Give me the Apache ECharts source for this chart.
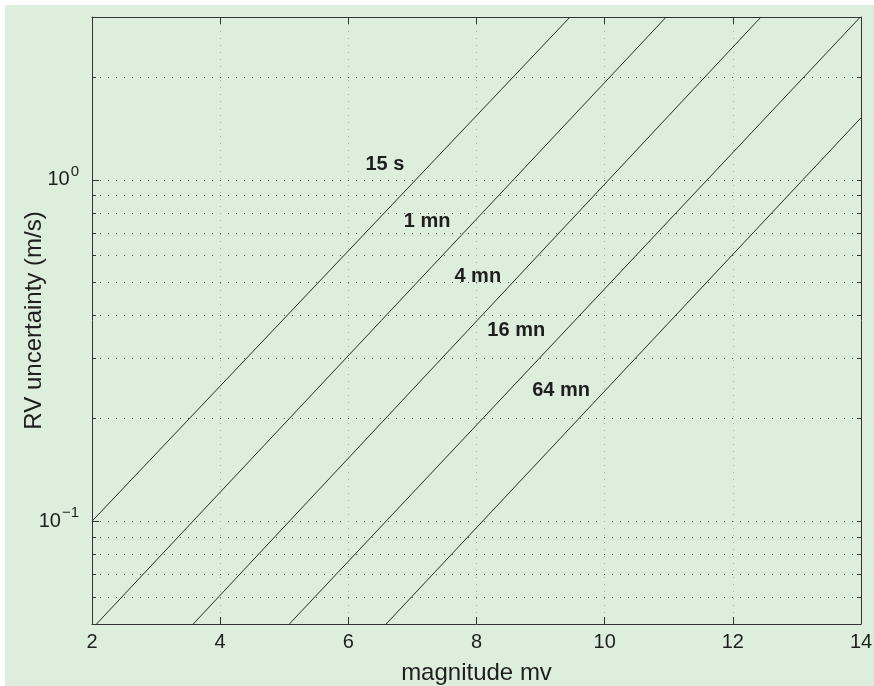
<!DOCTYPE html>
<html>
<head>
<meta charset="utf-8">
<script src="https://cdn.jsdelivr.net/npm/echarts@6/dist/echarts.min.js"></script>
<style>
html,body{margin:0;padding:0;background:#fff;}
#c{position:absolute;left:5px;top:5px;width:869px;height:681px;}
</style>
</head>
<body>
<div id="c"></div>
<script>
// Exposure-time lines: endpoints (where each line enters/leaves the plot)
const timeLabels = ['15 s', '1 mn', '4 mn', '16 mn', '64 mn'];
const startMag = [2.0, 2.07, 3.58, 5.08, 6.59];
const startRV  = [0.1, 0.05, 0.05, 0.05, 0.05];
const endMag   = [9.46, 10.96, 12.44, 13.99, 14.0];
const endRV    = [3.0, 3.0, 3.0, 3.0, 1.52];
// Label anchor positions (magnitude, RV)
const labelMag = [6.57, 7.23, 8.02, 8.62, 9.32];
const labelRV  = [1.106, 0.753, 0.52, 0.361, 0.241];
// Axis ticks
const xTicks = [2, 4, 6, 8, 10, 12, 14];
const yMajor = [0.1, 1];
const yMinor = [0.06, 0.07, 0.08, 0.09, 0.1, 0.2, 0.3, 0.4, 0.5, 0.6, 0.7, 0.8, 0.9, 1, 2];

const ink = '#1e1e1e';
const font = '"Liberation Sans", Arial, Helvetica, sans-serif';

const lineSeries = timeLabels.map((name, i) => ({
  type: 'line',
  name: name,
  xAxisIndex: 0,
  yAxisIndex: 0,
  data: [[startMag[i], startRV[i]], [endMag[i], endRV[i]]],
  showSymbol: false,
  symbol: 'none',
  lineStyle: { color: '#2a2a2a', width: 1 },
  silent: true,
  animation: false
}));

const labelSeries = {
  type: 'scatter',
  xAxisIndex: 0,
  yAxisIndex: 0,
  symbolSize: 1,
  itemStyle: { color: 'rgba(0,0,0,0)', opacity: 1 },
  data: timeLabels.map((t, i) => [labelMag[i], labelRV[i], t]),
  label: {
    show: true,
    position: 'inside',
    formatter: p => p.data[2],
    fontFamily: font,
    fontSize: 20,
    fontWeight: 'bold',
    color: ink,
    opacity: 1,
    textBorderWidth: 0
  },
  animation: false
};

const chart = echarts.init(document.getElementById('c'));
chart.setOption({
  backgroundColor: '#deeedc',
  animation: false,
  grid: { left: 87, right: 13, top: 12, bottom: 62, containLabel: false, outerBoundsMode: 'none' },
  xAxis: [
    {
      type: 'value', position: 'bottom', min: 2, max: 14, interval: 2,
      name: 'magnitude mv', nameLocation: 'middle', nameGap: 37, nameMoveOverlap: false,
      nameTextStyle: { fontFamily: font, fontSize: 24, color: ink },
      axisLine: { show: true, lineStyle: { color: '#333', width: 1 } },
      axisTick: { show: true, inside: true, length: 7, lineStyle: { color: '#333' } },
      axisLabel: { fontFamily: font, fontSize: 20, color: ink, margin: 8 },
      splitLine: { show: true, lineStyle: { color: '#a8b0a8', type: [1, 6], width: 1 } }
    },
    {
      type: 'value', position: 'top', min: 2, max: 14, interval: 2,
      axisLine: { show: true, lineStyle: { color: '#333', width: 1 } },
      axisTick: { show: true, inside: true, length: 7, lineStyle: { color: '#333' } },
      axisLabel: { show: false },
      splitLine: { show: false }
    }
  ],
  yAxis: [
    {
      type: 'log', logBase: 10, position: 'left', min: 0.05, max: 3,
      name: 'RV uncertainty (m/s)', nameLocation: 'middle', nameGap: 46, nameMoveOverlap: false,
      nameRotate: 90,
      nameTextStyle: { fontFamily: font, fontSize: 24, color: ink },
      axisLine: { show: true, lineStyle: { color: '#333', width: 1 } },
      axisTick: { show: true, inside: true, length: 7, customValues: yMajor, lineStyle: { color: '#333' } },
      axisLabel: {
        customValues: yMajor,
        margin: 13,
        formatter: v => (v > 0.5 ? '{b|10}{s|0}' : '{b|10}{s|\u22121}'),
        rich: {
          b: { fontFamily: font, fontSize: 20, color: ink },
          s: { fontFamily: font, fontSize: 15, color: ink, padding: [0, 0, 16, 1] }
        }
      },
      splitLine: { show: false },
      minorTick: { show: false },
      minorSplitLine: { show: false }
    },
    {
      type: 'log', logBase: 10, position: 'left', min: 0.05, max: 3,
      axisLine: { show: false },
      axisTick: { show: true, inside: true, length: 4, customValues: yMinor, lineStyle: { color: '#333' } },
      axisLabel: { show: false, customValues: yMinor },
      splitLine: { show: true, lineStyle: { color: '#555', type: [1, 7], width: 1 } }
    },
    {
      type: 'log', logBase: 10, position: 'right', min: 0.05, max: 3,
      axisLine: { show: true, lineStyle: { color: '#333', width: 1 } },
      axisTick: { show: true, inside: true, length: 4, customValues: yMinor, lineStyle: { color: '#333' } },
      axisLabel: { show: false, customValues: yMinor },
      splitLine: { show: false }
    }
  ],
  series: lineSeries.concat([labelSeries])
});
</script>
</body>
</html>
